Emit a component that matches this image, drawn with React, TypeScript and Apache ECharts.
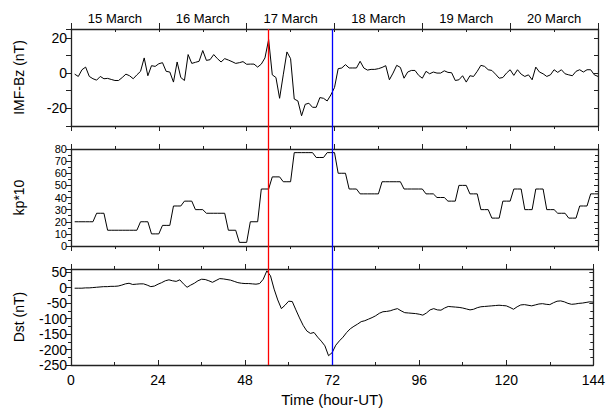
import React, { useEffect, useRef } from 'react';
import * as echarts from 'echarts';

// hourly time stamps (hour-UT from 15 March 00 UT)
const hours: number[] = [];
for (let h = 1; h <= 144; h++) hours.push(h);

const bz = [
  -0.6, -1.9, 1.9, 3.4, -1.9, -3.2, -4, -1.9, -3.2, -3,
  -3.6, -4.2, -4.2, -2.5, -0.6, -1.5, -3.2, -1, 1, 8.6,
  -1.5, 4.2, 3.8, 5.3, 5.9, 1, 0.6, -5.1, 6.3, -2.5,
  -4.2, 10.5, 5.5, 6.1, 6.7, 12.8, 7.2, 7.6, 10.5, 8.2,
  6.3, 8.2, 7.4, 6.5, 5.5, 5.9, 6.5, 5, 5.1, 5.1,
  3.4, 5.1, 8.6, 19, -1, -2.5, -14.3, -1, 12, 8.2,
  -14.7, -15.8, -24.2, -17.7, -17.1, -19.4, -19.4, -13.9, -14.3, -15.8,
  -12.4, -8.2, 2.5, 2.9, 4.8, 2.9, 2.9, 2.9, 6.7, 2.9,
  1.7, 2.1, 2.1, 2.5, 3.2, 4.2, -3.8, 0, 4.4, 3.2,
  -2.9, 0.6, 1.5, 1.5, -1.3, -2.9, 1, -0.4, 0.6, 0,
  0, 1.3, 0.4, 0.2, -4.2, -3.8, -1.5, -5.1, -1.5, -1.9,
  1, 4.4, 3.8, 1.9, 1.5, -0.6, -2.9, -2.5, 0, 1.9,
  -1.3, 1.9, -0.6, -1.9, -1, -3.8, 3.4, 0.6, -0.4, -1.9,
  -1, 1.9, 0.4, 1.9, -0.4, -1, -1.5, 1, 1.9, 0.6,
  1.9, 1.9, -1, -1.9,
];

// 3-hourly kp*10 values
const kp3h = [
  20, 20, 27, 13, 13, 13, 20, 10, 17, 33,
  37, 30, 27, 27, 13, 3, 20, 47, 57, 53,
  77, 77, 73, 77, 60, 47, 43, 43, 53, 53,
  47, 47, 43, 40, 37, 50, 43, 30, 23, 37,
  47, 30, 47, 30, 27, 23, 33, 43,
];

const dst = [
  -2, -2, -2, -1, -1, 0, 1, 2, 3, 3,
  4, 4, 5, 8, 12, 14, 10, 11, 12, 12,
  8, 3, 5, 11, 16, 22, 25, 22, 20, 25,
  12, 1, 8, 14, 22, 27, 26, 22, 17, 23,
  29, 28, 26, 24, 20, 16, 14, 13, 13, 12,
  11, 13, 27, 54, 38, -5, -40, -68, -57, -44,
  -45, -72, -98, -122, -140, -148, -145, -160, -173, -188,
  -220, -210, -186, -172, -160, -145, -133, -125, -118, -110,
  -107, -102, -97, -91, -83, -78, -77, -75, -71, -68,
  -75, -81, -82, -83, -84, -86, -89, -82, -72, -68,
  -72, -73, -66, -61, -62, -63, -64, -66, -69, -72,
  -70, -65, -62, -61, -60, -59, -58, -57, -58, -59,
  -64, -70, -62, -56, -55, -57, -59, -56, -53, -52,
  -54, -55, -49, -44, -43, -46, -51, -54, -53, -51,
  -50, -48, -46, -47,
];

const dayLabels = ['15 March', '16 March', '17 March', '18 March', '19 March', '20 March'];
const dayLabelHours = [12, 36, 60, 84, 108, 132];
const eventHours = [54, 71.4];
const eventColors = ['#ff0000', '#0000ff'];

const FONT = 'Liberation Sans, Arial, sans-serif';
const AX = '#222';

export default function App() {
  const ref = useRef<HTMLDivElement>(null);
  useEffect(() => {
    if (!ref.current) return;
    const chart = echarts.init(ref.current, undefined, { renderer: 'svg' });

    const grids = [
      { left: 71, width: 527, top: 29, height: 97 },
      { left: 71, width: 527, top: 149, height: 97 },
      { left: 71, width: 527, top: 269, height: 96 },
      { left: 71, width: 527, top: 29, height: 336 },
    ];

    const baseX = (gridIndex: number, position: 'top' | 'bottom', extra: any = {}) => ({
      type: 'value', gridIndex, position, min: 0, max: 144, interval: 24,
      axisLine: { show: true, onZero: false, lineStyle: { color: AX, width: 1.3 } },
      axisTick: { show: true, length: 5, inside: false, lineStyle: { color: AX } },
      minorTick: { show: true, splitNumber: 2, length: 3, lineStyle: { color: AX } },
      axisLabel: { show: false },
      splitLine: { show: false },
      ...extra,
    });

    const xAxis: any[] = [
      baseX(0, 'bottom'),
      baseX(0, 'top', {
        axisTick: { show: true, length: 6, inside: false, lineStyle: { color: AX } },
        minorTick: { show: false },
        axisLabel: {
          show: true, customValues: dayLabelHours, margin: 4,
          fontFamily: FONT, fontSize: 13, color: '#000',
          formatter: (v: number) => dayLabels[dayLabelHours.indexOf(v)] ?? '',
        },
      }),
      baseX(0, 'top', {
        interval: 12,
        axisLine: { show: false, onZero: false },
        axisTick: { show: true, length: 3, inside: true, lineStyle: { color: AX } },
        minorTick: { show: false },
      }),
      baseX(1, 'bottom'),
      baseX(1, 'top'),
      baseX(2, 'bottom', {
        axisTick: { show: true, length: 5, inside: true, lineStyle: { color: AX } },
        axisLabel: { show: true, fontFamily: FONT, fontSize: 14, color: '#000', margin: 8, showMinLabel: true, showMaxLabel: true },
        name: 'Time (hour-UT)', nameLocation: 'middle', nameGap: 27,
        nameTextStyle: { fontFamily: FONT, fontSize: 15, color: '#000' },
      }),
      baseX(2, 'top'),
      { type: 'value', gridIndex: 3, min: 0, max: 144, show: false },
    ];

    const leftY = (gridIndex: number, min: number, max: number, interval: number, name: string, nameGap: number, labelStep: number, minor: boolean, fontSize: number) => ({
      type: 'value', gridIndex, position: 'left', min, max, interval,
      axisLine: { show: true, onZero: false, lineStyle: { color: AX, width: 1.3 } },
      axisTick: { show: true, length: 5, inside: false, lineStyle: { color: AX } },
      minorTick: { show: minor, splitNumber: 2, length: 3, lineStyle: { color: AX } },
      axisLabel: {
        show: true, fontFamily: FONT, fontSize, lineHeight: fontSize, color: '#000', margin: 4,
        showMinLabel: true, showMaxLabel: true,
        formatter: (v: number) => (Math.abs(v % labelStep) < 1e-9 ? String(v) : ''),
      },
      splitLine: { show: false },
      name, nameLocation: 'middle', nameGap, nameRotate: 90,
      nameTextStyle: { fontFamily: FONT, fontSize: 14, color: '#000' },
    });
    const rightY = (gridIndex: number, min: number, max: number, interval: number, minor: boolean) => ({
      type: 'value', gridIndex, position: 'right', min, max, interval,
      axisLine: { show: true, onZero: false, lineStyle: { color: AX, width: 1.3 } },
      axisTick: { show: true, length: 4, inside: true, lineStyle: { color: AX } },
      minorTick: { show: minor, splitNumber: 2, length: 3, lineStyle: { color: AX } },
      axisLabel: { show: false },
      splitLine: { show: false },
    });

    const yAxis: any[] = [
      leftY(0, -30, 25, 10, 'IMF-Bz (nT)', 45, 20, false, 14),
      rightY(0, -30, 25, 10, false),
      leftY(1, 0, 80, 10, 'kp*10', 45, 10, true, 11),
      rightY(1, 0, 80, 10, true),
      leftY(2, -250, 60, 50, 'Dst (nT)', 45, 50, true, 14),
      rightY(2, -250, 60, 50, true),
      { type: 'value', gridIndex: 3, min: 0, max: 1, show: false },
    ];

    const lineStyle = { color: '#000', width: 1 };
    const kpData = hours.map((h) => [h, kp3h[Math.floor((h - 1) / 3)]]);

    chart.setOption({
      animation: false,
      backgroundColor: '#fff',
      grid: grids,
      xAxis,
      yAxis,
      series: [
        { type: 'line', xAxisIndex: 0, yAxisIndex: 0, data: hours.map((h, i) => [h, bz[i]]), symbol: 'none', lineStyle },
        { type: 'line', xAxisIndex: 3, yAxisIndex: 2, data: kpData, symbol: 'none', lineStyle },
        { type: 'line', xAxisIndex: 5, yAxisIndex: 4, data: hours.map((h, i) => [h, dst[i]]), symbol: 'none', lineStyle },
        {
          type: 'line', xAxisIndex: 7, yAxisIndex: 6, data: [[0, 0]], symbol: 'none',
          lineStyle: { opacity: 0 }, z: 5,
          markLine: {
            silent: true, symbol: 'none', label: { show: false },
            data: eventHours.map((h, i) => ({ xAxis: h, lineStyle: { color: eventColors[i], width: 1.3, type: 'solid' } })),
          },
        },
      ],
    });
    return () => chart.dispose();
  }, []);
  return <div ref={ref} style={{ position: 'absolute', left: 0, top: 0, width: 608, height: 411 }} />;
}
